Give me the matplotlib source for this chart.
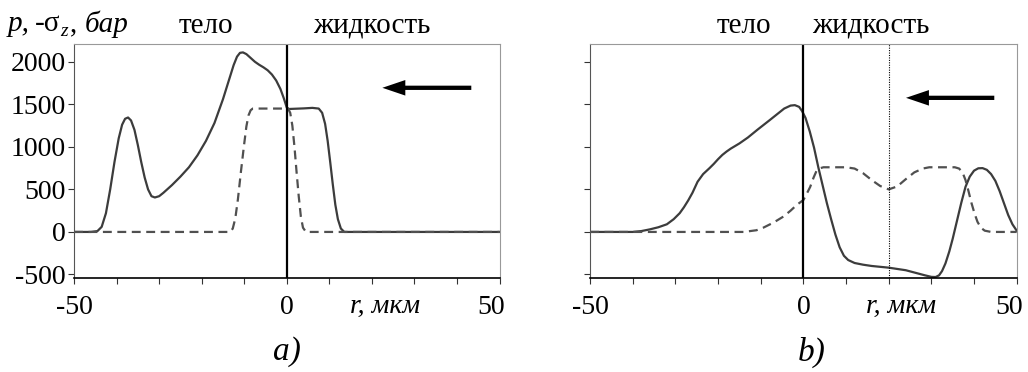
import matplotlib
matplotlib.use('Agg')
import matplotlib.pyplot as plt
import matplotlib.transforms as mtransforms
from matplotlib.patches import FancyArrowPatch

plt.rcParams['font.family'] = 'Liberation Serif'
plt.rcParams['axes.unicode_minus'] = False

# panel a: solid curve (p) and dashed curve (-sigma_z)
a_solid_x = [-50, -46, -44.5, -43.5, -42.5, -41.5, -40.5, -39.5, -38.7, -38, -37.3, -36.6,
             -35.8, -35, -34.2, -33.4, -32.6, -31.8, -31, -30, -29, -27, -25, -23, -21, -19,
             -17, -15, -13.5, -12.5, -11.7, -11, -10.3, -9.5, -8.5, -7.5, -6.5, -5.5, -4.5,
             -3.5, -2.5, -1.5, -0.7, 0, 0.5, 2, 4, 6, 7.5, 8.3, 9, 9.6, 10.2, 10.8, 11.4, 12,
             12.7, 13.5, 50]
a_solid_y = [0, 0, 10, 60, 220, 500, 820, 1100, 1260, 1330, 1345, 1310, 1200, 1020, 820,
             640, 500, 420, 405, 420, 460, 550, 650, 760, 900, 1070, 1280, 1560, 1800, 1960,
             2060, 2105, 2110, 2090, 2045, 2000, 1965, 1935, 1900, 1850, 1780, 1680, 1570,
             1460, 1445, 1448, 1452, 1458, 1450, 1400, 1270, 1070, 820, 560, 320, 150, 40, 0, 0]
a_dash_x = [-50, -13.3, -12.7, -12.1, -11.5, -10.8, -10.1, -9.5, -9, -8.5, -8, 0.3, 0.8, 1.3,
            1.8, 2.3, 2.8, 3.3, 3.8, 4.5, 50]
a_dash_y = [0, 0, 40, 160, 380, 700, 1000, 1240, 1370, 1430, 1450, 1450, 1400, 1250, 1000,
            700, 420, 180, 50, 0, 0]

# panel b
b_solid_x = [-50, -40, -38, -36, -34, -32, -30.4, -29, -28, -27, -26, -24.8, -23.5, -22,
             -21, -20, -19, -18, -17, -16, -15, -13, -10.8, -8, -6, -4.5, -3, -2, -1, -0.3,
             0.5, 1.5, 2.5, 3.5, 4.5, 5.5, 6.5, 7.5, 8.5, 9.5, 10.5, 12, 14, 16, 20, 24, 27,
             28.5, 30, 31, 31.8, 32.5, 33.3, 34.2, 35, 36, 37, 38, 39, 40, 41, 42, 43, 44, 45,
             46, 47, 48, 49, 50]
b_solid_y = [0, 0, 10, 30, 55, 90, 150, 220, 290, 370, 460, 590, 680, 750, 800, 855, 905,
             945, 980, 1010, 1040, 1110, 1200, 1310, 1390, 1450, 1485, 1490, 1470, 1420,
             1340, 1180, 990, 760, 550, 340, 150, -30, -180, -280, -330, -365, -385, -400,
             -420, -450, -490, -510, -528, -530, -510, -460, -370, -230, -80, 130, 340, 530,
             650, 720, 748, 750, 730, 680, 600, 480, 340, 200, 90, 15]
b_dash_x = [-50, -14, -11, -9.4, -7, -4.7, -3, -1.5, 0, 0.8, 1.6, 2.4, 3.1, 4, 4.7, 10, 12,
            14, 16, 18, 20, 22, 24, 26, 28, 29.5, 35.5, 36.5, 37.3, 38, 38.7, 39.4, 40.1,
            40.8, 41.6, 42.5, 44, 50]
b_dash_y = [0, 0, 20, 50, 110, 180, 250, 320, 375, 450, 530, 640, 720, 750, 760, 760, 745,
            690, 610, 540, 500, 535, 620, 700, 745, 760, 760, 745, 700, 610, 480, 340, 220,
            120, 50, 15, 0, 0]

y_ticks = [-500, 0, 500, 1000, 1500, 2000]
x_ticks = [-50, 0, 50]
x_labels = ['-50', '0', '50']

fig = plt.figure(figsize=(10.28, 3.72), dpi=100)
ax1 = fig.add_axes([0.072, 0.253, 0.414, 0.629])
ax2 = fig.add_axes([0.574, 0.253, 0.415, 0.629])

lc = '#3c3c3c'
for ax, sx, sy, dx, dy in [(ax1, a_solid_x, a_solid_y, a_dash_x, a_dash_y),
                           (ax2, b_solid_x, b_solid_y, b_dash_x, b_dash_y)]:
    ax.plot(sx, sy, color=lc, lw=1.6)
    ax.plot(dx, dy, color='#505050', lw=1.6, ls=(0, (4, 2.5)))
    ax.axvline(0, color='black', lw=1.6)
    ax.set_xlim(-50, 50)
    ax.set_ylim(-540, 2210)
    ax.set_xticks(x_ticks)
    ax.set_xticklabels(x_labels)
    ax.set_xticks(range(-40, 50, 10), minor=True)
    ax.set_yticks(y_ticks)
    ax.tick_params(which='both', direction='out', length=4, width=0.8, labelsize=20,
                   colors='#333333', labelcolor='black')
    ax.tick_params(axis='x', pad=8)
    ax.tick_params(axis='y', pad=2)
    ax.spines['bottom'].set_color('black')
    ax.spines['bottom'].set_linewidth(1.2)
    ax.spines['left'].set_color('#555555')
    ax.spines['top'].set_color('#999999')
    ax.spines['right'].set_color('#999999')
    ax.text(23, -880, 'r, мкм', style='italic', fontsize=20, ha='center', va='center')
    # the "50" label sits a little left of its tick in the original
    lab = ax.get_xticklabels()[-1]
    lab.set_transform(lab.get_transform() + mtransforms.ScaledTranslation(-8 / 100, 0, fig.dpi_scale_trans))

ax1.set_yticklabels([str(v) for v in y_ticks])
ax2.set_yticklabels([])
ax2.axvline(20, color='black', lw=0.8, ls=(0, (1, 1.2)))

for ax, x0, x1, y in [(ax1, 44, 21.8, 1694), (ax2, 45.4, 23.4, 1576)]:
    ax.add_patch(FancyArrowPatch((x0, y), (x1, y), arrowstyle='simple,head_length=1.18,head_width=0.8,tail_width=0.22',
                                 mutation_scale=14, color='black', lw=0))

def px(x, y):
    return x / 1028, 1 - y / 372

fig.text(*px(206, 26), 'тело', fontsize=21, ha='center', va='center')
fig.text(*px(372, 26), 'жидкость', fontsize=21, ha='center', va='center')
fig.text(*px(744, 26), 'тело', fontsize=21, ha='center', va='center')
fig.text(*px(871, 26), 'жидкость', fontsize=21, ha='center', va='center')

fig.text(*px(8, 24), 'p,', style='italic', fontsize=21, va='center')
fig.text(*px(35, 24), '-σ', fontsize=21, va='center')
fig.text(*px(60, 31), 'z', style='italic', fontsize=14, va='center')
fig.text(*px(70, 24), ',', fontsize=21, va='center')
fig.text(*px(85, 24), 'бар', style='italic', fontsize=21, va='center')

fig.text(*px(287, 352), 'a)', style='italic', fontsize=24, ha='center', va='center')
fig.text(*px(812, 352), 'b)', style='italic', fontsize=24, ha='center', va='center')

fig.savefig('out.png', dpi=100)
